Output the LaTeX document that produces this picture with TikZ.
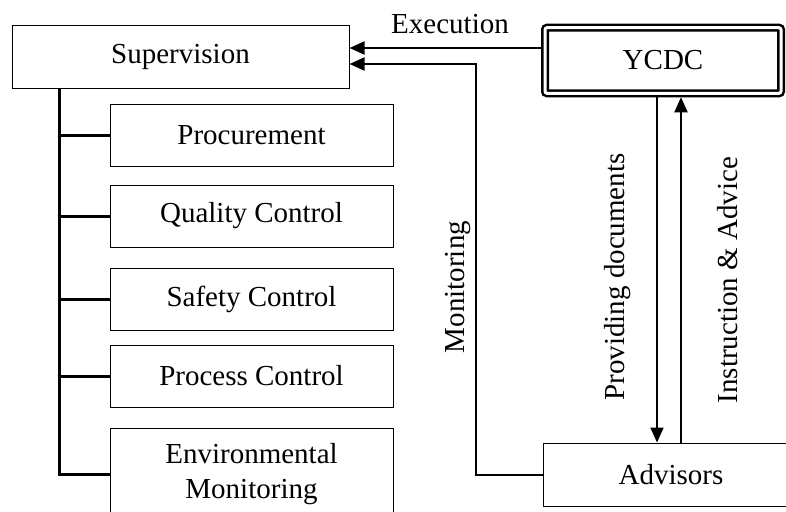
\documentclass[tikz,border=0pt]{standalone}
\usepackage{fontspec}
\setmainfont{Liberation Serif}
\usetikzlibrary{arrows.meta}
\usetikzlibrary{positioning}

\tikzset{
  box/.style={draw, line width=1pt, inner sep=0pt, align=center, minimum height=62pt, font=\fontsize{29}{35}\selectfont},
  subbox/.style={box, minimum width=283pt},
  dbox/.style={box, double, double distance=3pt, line width=2.5pt, rounded corners=2pt, outer sep=4pt},
  conn/.style={line width=2pt, -{Triangle[length=15pt,width=13pt]}},
  treeline/.style={line width=3pt},
  lab/.style={inner sep=0pt, font=\fontsize{29}{35}\selectfont}
}

\begin{document}
\begin{tikzpicture}[x=1pt, y=-1pt]
        \clip (0,0) rectangle (786,511);

        % left side: supervision and its tasks
        \node[box, minimum width=337pt] (sup) at (180.5, 57) {Supervision};
        \node[subbox] (proc) at (251.5, 135) {Procurement};
        \node[subbox] (qual) at (251.5, 216) {Quality Control};
        \node[subbox] (safe) at (251.5, 299) {Safety Control};
        \node[subbox] (pcon) at (251.5, 376) {Process Control};
        \node[subbox, minimum height=92pt] (env) at (251.5, 474) {Environmental\\Monitoring};

        \coordinate (trunk) at (59, 88);
        \draw[treeline] (trunk) -- ([yshift=-1.5pt]trunk |- env.west);
        \foreach \t in {proc,qual,safe,pcon,env}
            \draw[treeline] (trunk |- \t.west) -- (\t.west);

        % right side
        \node[dbox, minimum width=236pt, minimum height=65.5pt] (ycdc) at (663, 60.5) {YCDC};
        \node[box, minimum width=256pt, minimum height=63pt] (adv) at (671, 474.5) {Advisors};

        \draw[conn] ([yshift=12.5pt]ycdc.west) -- ([yshift=12.5pt]ycdc.west -| sup.east);
        \node[lab] (exec) at (450, 24) {Execution};

        \coordinate (monturn) at (476, 64);
        \draw[conn] (adv.west) -| (monturn) -- (monturn -| sup.east);
        \node[lab, rotate=90] (mon) at (458, 287) {Monitoring};

        \draw[conn] ([xshift=-6pt]ycdc.south) -- ([xshift=-6pt]ycdc.south |- adv.north);
        \draw[conn] ([xshift=18pt]ycdc.south |- adv.north) -- ([xshift=18pt]ycdc.south);
        \node[lab, rotate=90] (prov) at (618, 277) {Providing documents};
        \node[lab, rotate=90] (instr) at (728, 280) {Instruction \& Advice};
\end{tikzpicture}
\end{document}
